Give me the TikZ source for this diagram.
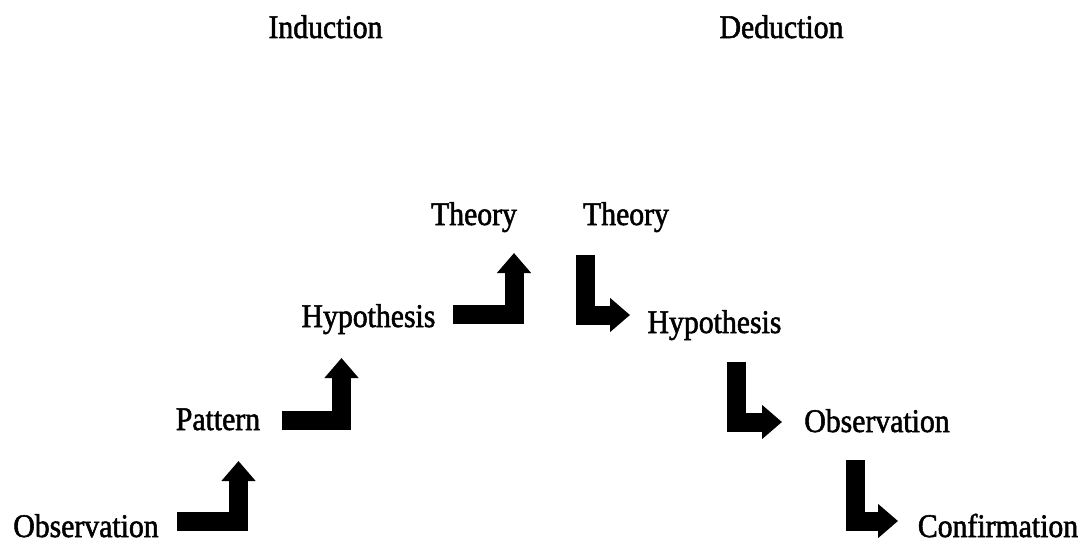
\documentclass[tikz,border=0pt]{standalone}
\usepackage{fontspec}
\setmainfont[FakeStretch=0.9,FakeBold=1.6]{Liberation Serif}
\usetikzlibrary{arrows.meta,positioning}

\begin{document}
\begin{tikzpicture}[x=0.25mm,y=-0.25mm,
    lbl/.style={anchor=base,inner sep=0pt,font=\fontsize{23.5}{28}\selectfont},
    bent/.style={line width=4.75mm,line join=miter,-{Triangle[width=8.25mm,length=5mm]}}]
            \useasboundingbox (0,0) rectangle (1091,546);

            % headings
            \node[lbl] (ind) at (325.5,38) {Induction};
            \node[lbl] (ded) at (781.5,38) {Deduction};

            % induction side
            \node[lbl] (obs1) at (86,537) {Observation};
            \node[lbl] (pat) at (218,430) {Pattern};
            \node[lbl] (hyp1) at (368.5,327) {Hypothesis};
            \node[lbl] (th1) at (474,225) {Theory};

            % deduction side
            \node[lbl] (th2) at (626,225) {Theory};
            \node[lbl] (hyp2) at (714.5,333) {Hypothesis};
            \node[lbl] (obs2) at (877,432) {Observation};
            \node[lbl] (conf) at (998,537) {Confirmation};

            % arrow ends
            \coordinate (u1s) at (177,521);   \coordinate (u1e) at (238.5,461);
            \coordinate (u2s) at (282,420);   \coordinate (u2e) at (341.5,358);
            \coordinate (u3s) at (453,314);   \coordinate (u3e) at (514,253);
            \coordinate (d1s) at (585.5,255); \coordinate (d1e) at (630,315);
            \coordinate (d2s) at (736.5,362); \coordinate (d2e) at (782,422);
            \coordinate (d3s) at (855,460);   \coordinate (d3e) at (898,521);

            \draw[bent] (u1s) -| (u1e);
            \draw[bent] (u2s) -| (u2e);
            \draw[bent] (u3s) -| (u3e);
            \draw[bent] (d1s) |- (d1e);
            \draw[bent] (d2s) |- (d2e);
            \draw[bent] (d3s) |- (d3e);
          \end{tikzpicture}
\end{document}
